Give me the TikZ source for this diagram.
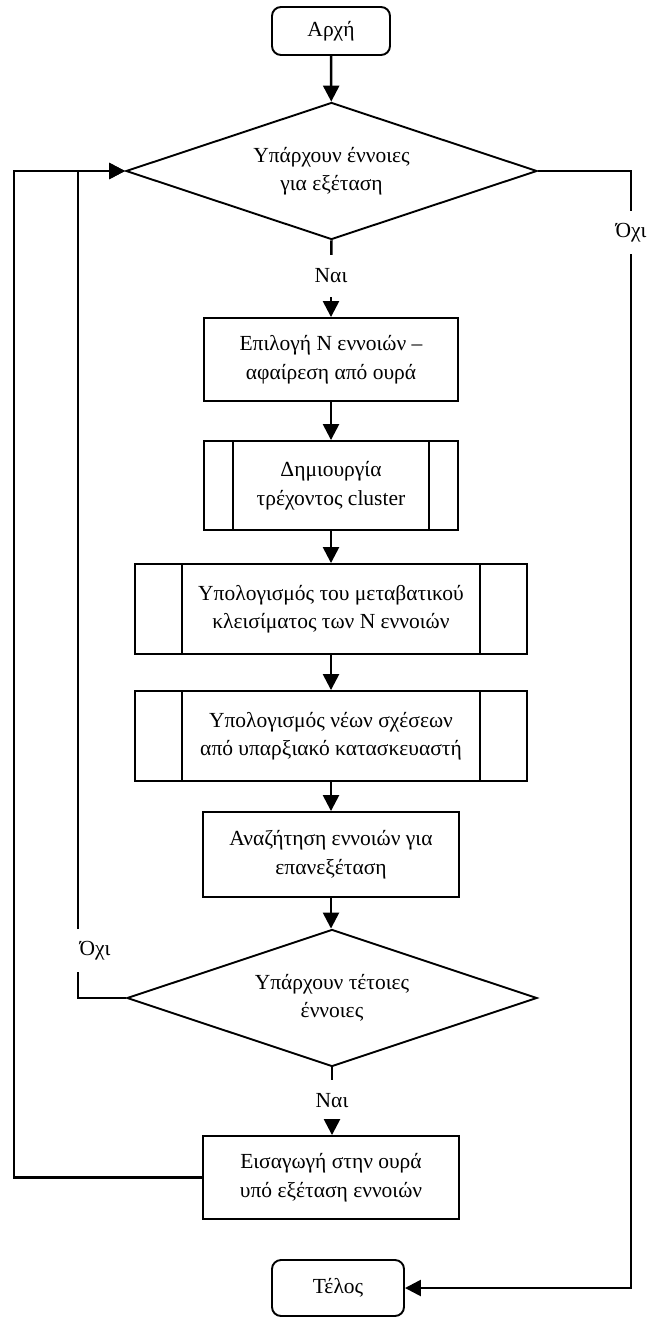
\documentclass[tikz,border=0pt]{standalone}
\usepackage{fontspec}
\setmainfont{Liberation Serif}
\usetikzlibrary{arrows.meta,shapes.geometric}

\tikzset{
  base/.style={draw, line width=1.9pt, align=center, inner sep=0pt,
    font=\fontsize{21.5}{28.5}\selectfont},
  terminal/.style={base, rounded corners=9pt},
  proc/.style={base, minimum width=254pt},
  wideproc/.style={base, minimum width=392pt, minimum height=90pt},
  decision/.style={base, diamond, aspect=3, minimum width=411pt, minimum height=137pt},
  lbl/.style={inner sep=0pt, minimum height=42pt, font=\fontsize{21.5}{24}\selectfont},
  link/.style={line width=2.5pt},
  arr/.style={link, -{Triangle[length=16pt,width=16pt]}},
}

\begin{document}
\begin{tikzpicture}[x=1pt, y=-1pt]
\useasboundingbox (0,0) rectangle (651,1317);

% start / end
\node[terminal, minimum width=118pt, minimum height=48pt] (start) at (331,31) {Αρχή};
\node[terminal, minimum width=132pt, minimum height=56pt] (end) at (338,1288) {Τέλος};

% main decision
\node[decision] (d1) at (331.5,171) {Υπάρχουν έννοιες\\για εξέταση};
\node[lbl] (nai1) at (331,276) {Ναι};
\node[lbl, minimum height=43pt] (ochi1) at (631,232.5) {Όχι};

% processing steps
\node[proc, minimum height=83pt] (b1) at (331,359.5) {Επιλογή Ν εννοιών –\\αφαίρεση από ουρά};
\node[proc, minimum height=89pt] (b2) at (331,485.5) {Δημιουργία\\τρέχοντος cluster};
\node[wideproc] (b3) at (331,609) {Υπολογισμός του μεταβατικού\\κλεισίματος των Ν εννοιών};
\node[wideproc] (b4) at (331,736) {Υπολογισμός νέων σχέσεων\\από υπαρξιακό κατασκευαστή};
\node[proc, minimum width=256pt, minimum height=85pt] (b5) at (331,854.5) {Αναζήτηση εννοιών για\\επανεξέταση};

% second decision
\node[decision, minimum width=410pt] (d2) at (332,998) {Υπάρχουν τέτοιες\\έννοιες};
\node[lbl] (nai2) at (332,1101) {Ναι};
\node[lbl, minimum height=0pt] (ochi2) at (95,951) {Όχι};

\node[proc, minimum width=256pt, minimum height=83pt] (b6) at (331,1177.5) {Εισαγωγή στην ουρά\\υπό εξέταση εννοιών};

% side bars of the predefined-process boxes
\foreach \n/\d in {b2/30, b3/48, b4/48} {
  \draw[line width=1.9pt] ([xshift=\d pt]\n.north west) -- ([xshift=\d pt]\n.south west);
  \draw[line width=1.9pt] ([xshift=-\d pt]\n.north east) -- ([xshift=-\d pt]\n.south east);
}

% gap ends of the inner loop around its label
\coordinate (g1) at (78,972);
\coordinate (g2) at (78,929);
\coordinate (outer) at (14,171);

% main flow
\draw[arr] (start) -- (d1);
\draw[link] (d1.south) -- (nai1);
\draw[arr] (nai1) -- (b1);
\draw[arr] (b1) -- (b2);
\draw[arr] (b2) -- (b3);
\draw[arr] (b3) -- (b4);
\draw[arr] (b4.south) -- (b4.south |- b5.north);
\draw[arr] (b5.south) -- (b5.south |- d2.north);
\draw[link] (d2.south) -- (nai2);
\draw[arr] (nai2) -- (nai2 |- b6.north);

% exit branch
\draw[link] (d1.east) -| (ochi1);
\draw[arr] (ochi1) |- (end.east);

% inner loop: no more concepts to re-examine
\draw[link] (d2.west) -| (g1);
\draw[arr] (g2) |- (d1.west);

% outer loop: back to the queue check
\draw[arr] (b6.west) -| (outer) -- (d1.west);
\end{tikzpicture}
\end{document}
